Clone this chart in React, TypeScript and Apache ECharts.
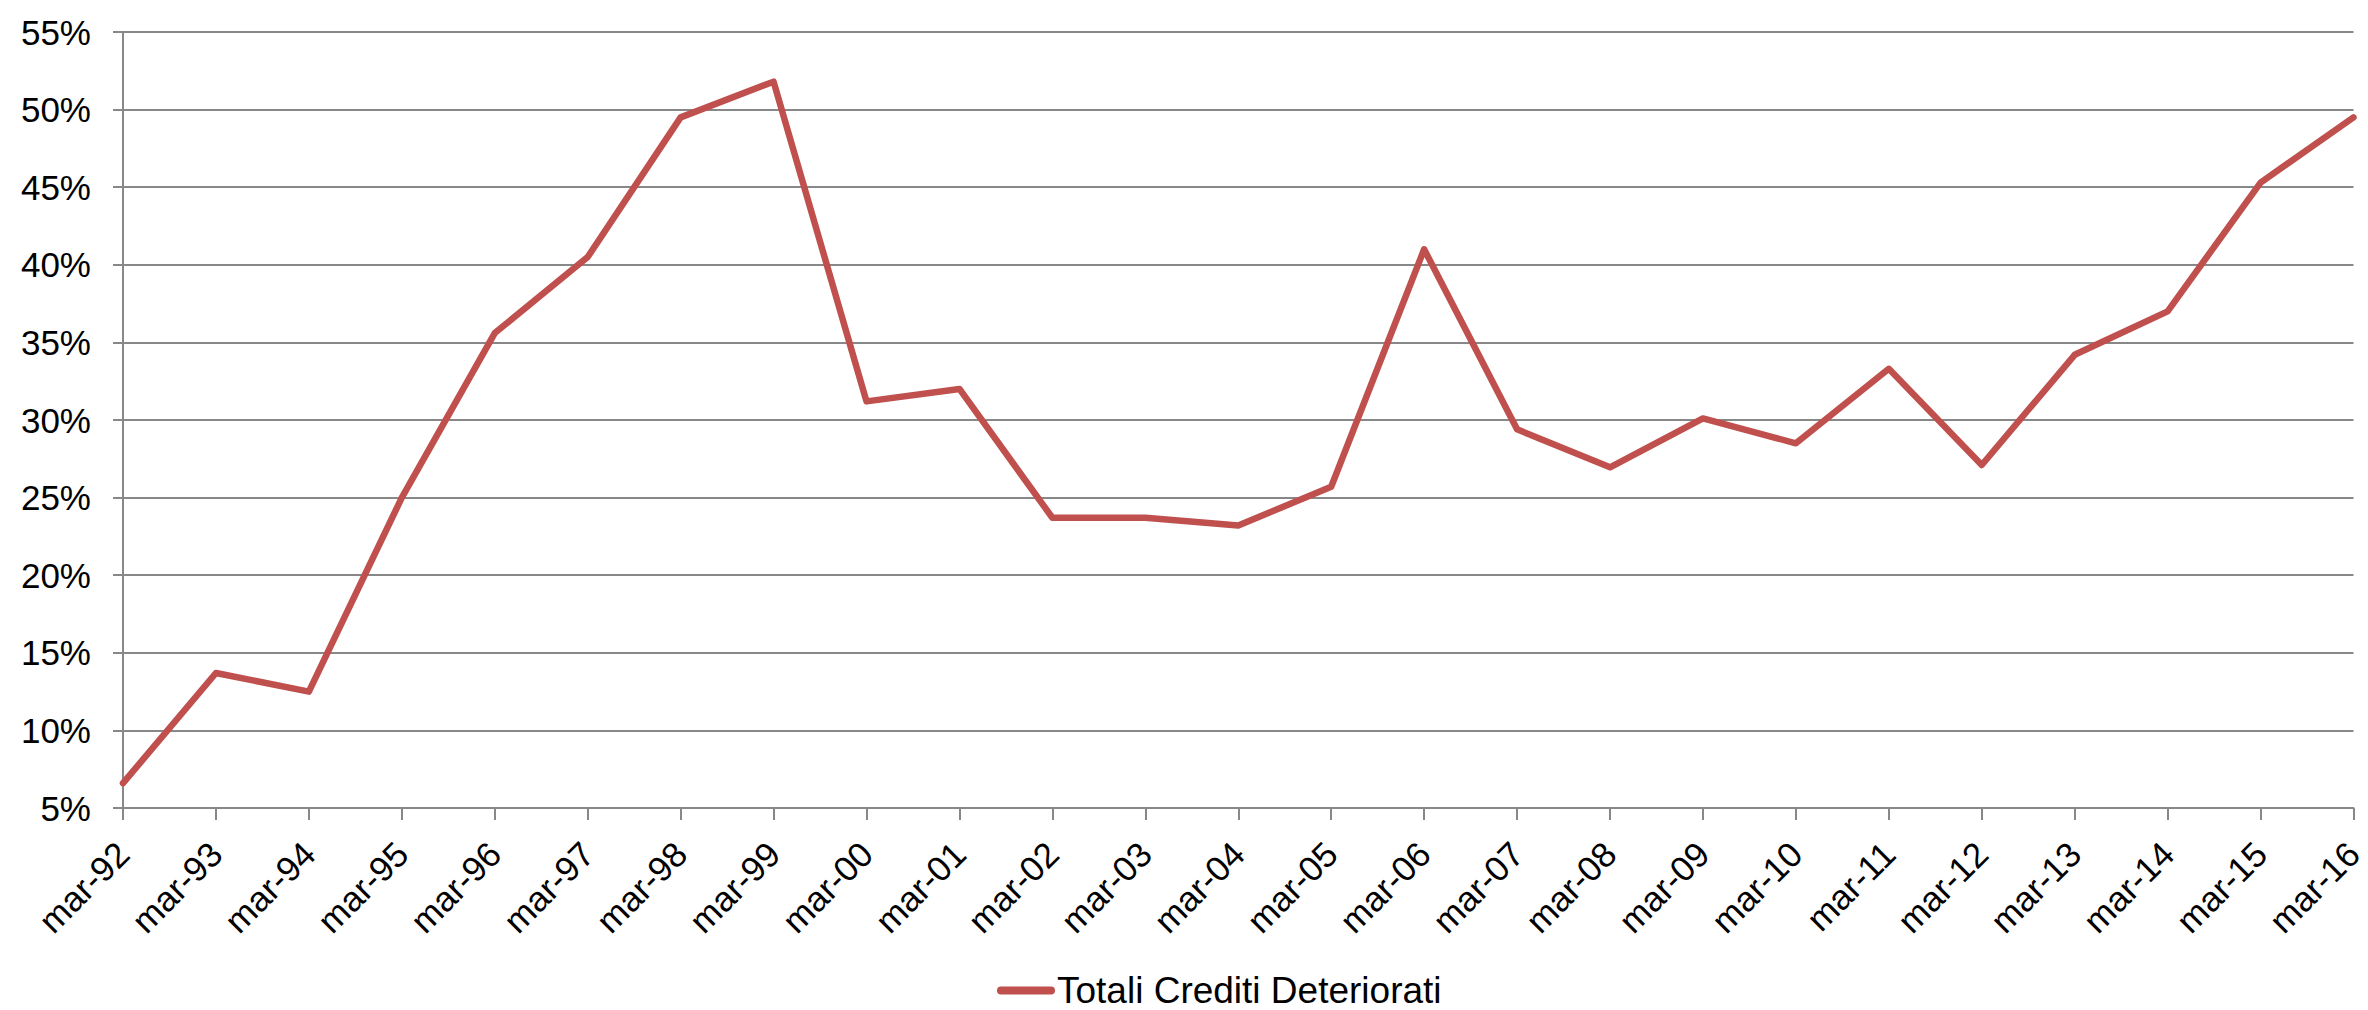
import React, { useEffect, useRef } from "react";
import * as echarts from "echarts";

// Quarter labels (March of each year, 1992–2016)
const categories: string[] = [
  "mar-92", "mar-93", "mar-94", "mar-95", "mar-96", "mar-97", "mar-98", "mar-99",
  "mar-00", "mar-01", "mar-02", "mar-03", "mar-04", "mar-05", "mar-06", "mar-07",
  "mar-08", "mar-09", "mar-10", "mar-11", "mar-12", "mar-13", "mar-14", "mar-15",
  "mar-16",
];

// Totali Crediti Deteriorati, in percent
const totaliCreditiDeteriorati: number[] = [
  6.6, 13.7, 12.5, 25.0, 35.6, 40.5, 49.5, 51.8,
  31.2, 32.0, 23.7, 23.7, 23.2, 25.7, 41.0, 29.4,
  26.95, 30.1, 28.5, 33.3, 27.1, 34.2, 37.0, 45.3,
  49.5,
];

const seriesName = "Totali Crediti Deteriorati";

// Y axis range and step (percent)
const yMin = 5;
const yMax = 55;
const yStep = 5;

const FONT = "'Liberation Sans', Arial, sans-serif";
const GRID_GREY = "#888888";
const LINE_RED = "#C0504D";

export default function App() {
  const ref = useRef<HTMLDivElement>(null);

  useEffect(() => {
    if (!ref.current) return;
    const chart = echarts.init(ref.current, undefined, { renderer: "svg" });
    chart.setOption({
      animation: false,
      backgroundColor: "#ffffff",
      textStyle: { fontFamily: FONT },
      grid: { left: 123, right: 5, top: 32, bottom: 202, containLabel: false },
      legend: {
        data: [seriesName],
        left: 997,
        top: 972,
        padding: 0,
        icon: "path://M4,0 H54 A4,4 0 0 1 54,8 H4 A4,4 0 0 1 4,0 Z",
        itemWidth: 58,
        itemHeight: 8,
        itemGap: 0,
        textStyle: { fontFamily: FONT, fontSize: 37, color: "#000000", padding: [0, 0, 0, -3] },
      },
      xAxis: {
        type: "category",
        data: categories,
        boundaryGap: false,
        axisLine: { show: true, lineStyle: { color: GRID_GREY, width: 2 } },
        axisTick: { show: true, length: 12, lineStyle: { color: GRID_GREY, width: 2 }, interval: 0 },
        axisLabel: {
          interval: 0,
          rotate: 45,
          margin: 40,
          fontFamily: FONT,
          fontSize: 35,
          color: "#000000",
        },
        splitLine: { show: false },
      },
      yAxis: {
        type: "value",
        min: yMin,
        max: yMax,
        interval: yStep,
        axisLine: { show: true, lineStyle: { color: GRID_GREY, width: 2 } },
        axisTick: { show: true, length: 10, lineStyle: { color: GRID_GREY, width: 2 } },
        axisLabel: {
          margin: 32,
          fontFamily: FONT,
          fontSize: 35,
          color: "#000000",
          formatter: (v: number) => `${v}%`,
        },
        splitLine: { show: true, lineStyle: { color: GRID_GREY, width: 2 } },
      },
      series: [
        {
          name: seriesName,
          type: "line",
          data: totaliCreditiDeteriorati,
          symbol: "none",
          showSymbol: false,
          color: LINE_RED,
          lineStyle: { color: LINE_RED, width: 6.5, cap: "round", join: "round" },
        },
      ],
    });
    return () => chart.dispose();
  }, []);

  return (
    <div
      ref={ref}
      style={{ position: "fixed", left: 0, top: 0, width: 2368, height: 1010 }}
    />
  );
}
